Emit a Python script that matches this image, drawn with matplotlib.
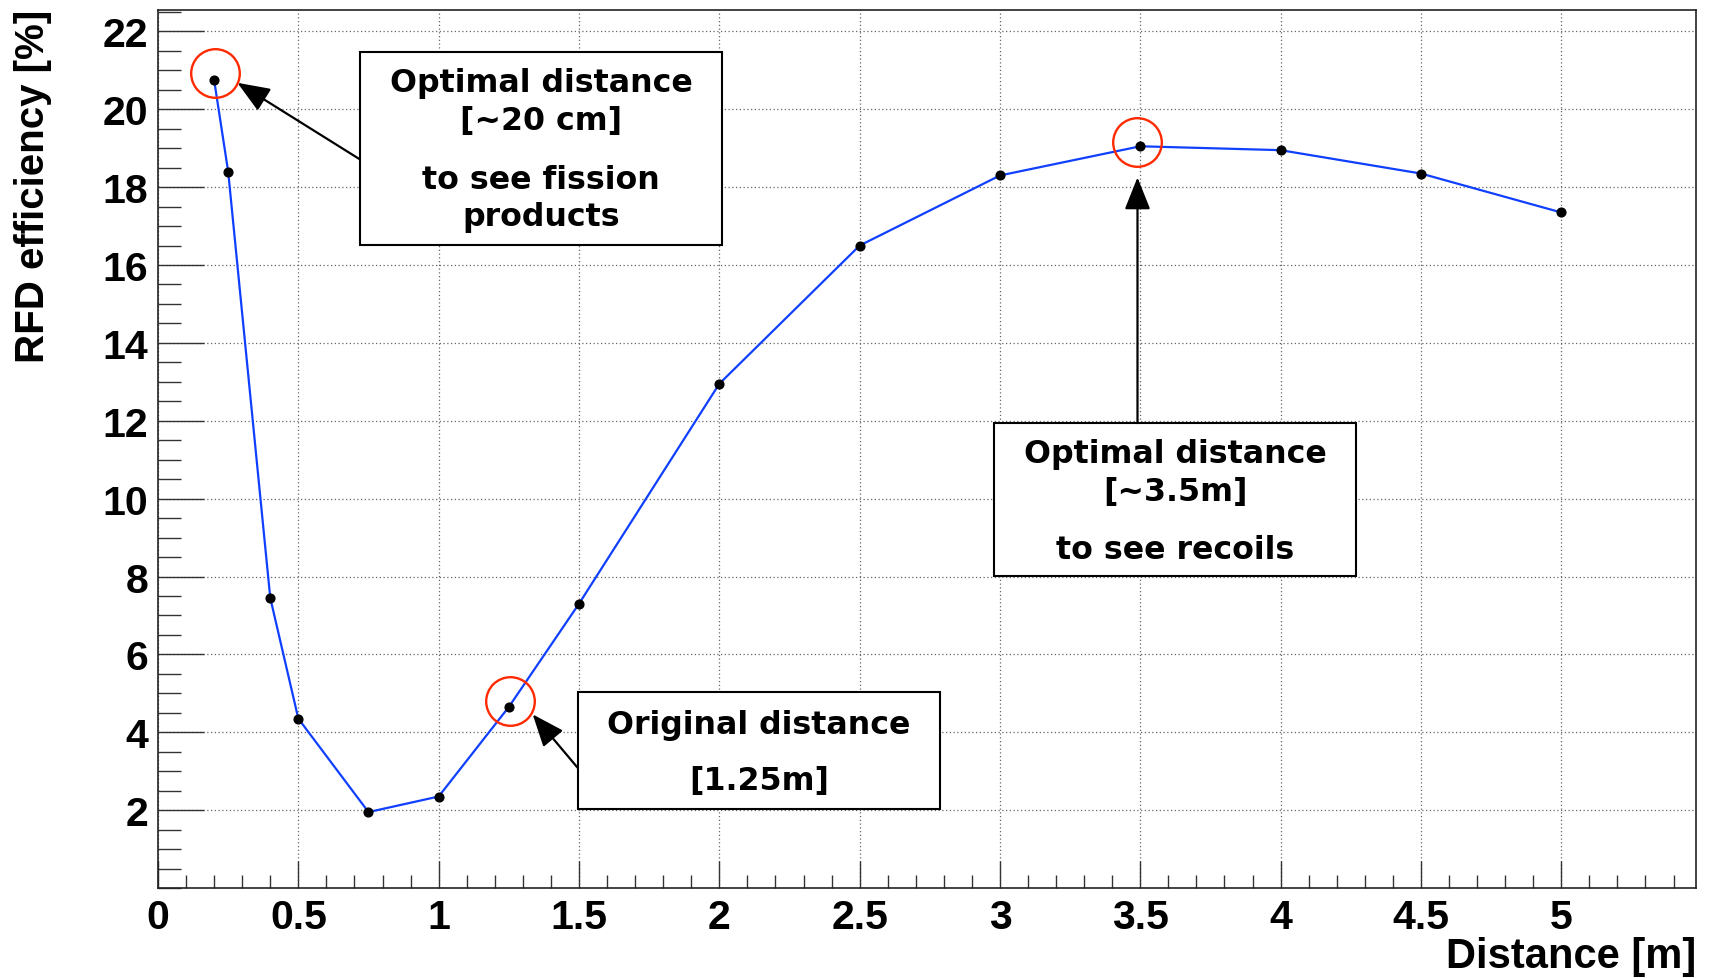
import matplotlib
matplotlib.use("Agg")
import matplotlib.pyplot as plt
from matplotlib.patches import Rectangle
from matplotlib.ticker import MultipleLocator

# measured points
distance = [0.2, 0.25, 0.4, 0.5, 0.75, 1.0, 1.25, 1.5, 2.0, 2.5, 3.0, 3.5, 4.0, 4.5, 5.0]
efficiency = [20.75, 18.4, 7.45, 4.35, 1.95, 2.35, 4.65, 7.3, 12.95, 16.5, 18.3, 19.05, 18.95, 18.35, 17.35]

x_ticks = [0, 0.5, 1, 1.5, 2, 2.5, 3, 3.5, 4, 4.5, 5]
x_tick_labels = ["0", "0.5", "1", "1.5", "2", "2.5", "3", "3.5", "4", "4.5", "5"]
y_ticks = [2, 4, 6, 8, 10, 12, 14, 16, 18, 20, 22]
y_tick_labels = ["2", "4", "6", "8", "10", "12", "14", "16", "18", "20", "22"]

# callouts: highlighted point, text, box extent, arrow tail/head
highlight_x = [0.202, 1.254, 3.49]
highlight_y = [20.94, 4.80, 19.17]

notes = [
    {"lines": [("Optimal distance", 20.68), ("[~20 cm]", 19.70), ("to see fission", 18.19), ("products", 17.24)],
     "box": (0.718, 16.51, 2.011, 21.47), "tail": (0.718, 18.72), "head": (0.283, 20.68)},
    {"lines": [("Original distance", 4.21), ("[1.25m]", 2.76)],
     "box": (1.495, 2.03, 2.787, 5.03), "tail": (1.495, 3.09), "head": (1.335, 4.46)},
    {"lines": [("Optimal distance", 11.16), ("[~3.5m]", 10.18), ("to see recoils", 8.69)],
     "box": (2.978, 8.02, 4.27, 11.94), "tail": (3.49, 11.94), "head": (3.49, 18.25)},
]

W, H = 1709, 979
fig = plt.figure(figsize=(W / 100, H / 100), dpi=100)
ax = fig.add_axes([158 / W, 1 - 889 / H, (1696 - 158) / W, (889 - 11) / H])

ax.set_xlim(0, 5.48)
ax.set_ylim(0, 22.55)

ax.plot(distance, efficiency, color="#1040ff", lw=1.6, zorder=3)
ax.plot(distance, efficiency, "o", color="black", ms=6.3, zorder=4)

ax.plot(highlight_x, highlight_y, "o", mfc="none", mec="#ff2a00", ms=35, mew=1.7, zorder=5)

label_font = {"family": "Liberation Sans", "weight": "bold"}
ax.set_xticks(x_ticks)
ax.set_xticklabels(x_tick_labels, fontdict=label_font, fontsize=29.5)
ax.set_yticks(y_ticks)
ax.set_yticklabels(y_tick_labels, fontdict=label_font, fontsize=29.5)
ax.xaxis.set_minor_locator(MultipleLocator(0.1))
ax.yaxis.set_minor_locator(MultipleLocator(0.5))
ax.tick_params(axis="x", which="major", direction="in", length=19.5, width=1, pad=7, color="#333333")
ax.tick_params(axis="x", which="minor", direction="in", length=9.7, width=1, color="#333333")
ax.tick_params(axis="y", which="major", direction="in", length=33, width=1, pad=7, color="#333333")
ax.tick_params(axis="y", which="minor", direction="in", length=16.5, width=1, color="#333333")

ax.grid(True, which="major", linestyle=(0, (1, 2)), color="#666666", lw=0.9, zorder=0)
ax.set_axisbelow(True)
for s in ax.spines.values():
    s.set_linewidth(1.2)
    s.set_color("#222222")

for note in notes:
    x0, y0, x1, y1 = note["box"]
    ax.add_patch(Rectangle((x0, y0), x1 - x0, y1 - y0, facecolor="white",
                           edgecolor="black", lw=1.5, zorder=6))
    cx = (x0 + x1) / 2
    for txt, ty in note["lines"]:
        ax.text(cx, ty, txt, ha="center", va="center", fontsize=22.8,
                family="DejaVu Sans", weight="bold", zorder=7)
    ax.annotate("", xy=note["head"], xytext=note["tail"],
                arrowprops=dict(arrowstyle="-|>,head_length=1.0,head_width=0.4",
                                mutation_scale=20, color="black", lw=1.6,
                                shrinkA=0, shrinkB=0),
                zorder=6)

fig.text(1696 / W, 1 - 957 / H, "Distance [m]", ha="right", va="center",
         fontsize=30, **label_font)
fig.text(33 / W, 1 - 10 / H, "RFD efficiency [%]", rotation=90, ha="center", va="top",
         fontsize=29, **label_font)

fig.savefig("out.png", dpi=100)
